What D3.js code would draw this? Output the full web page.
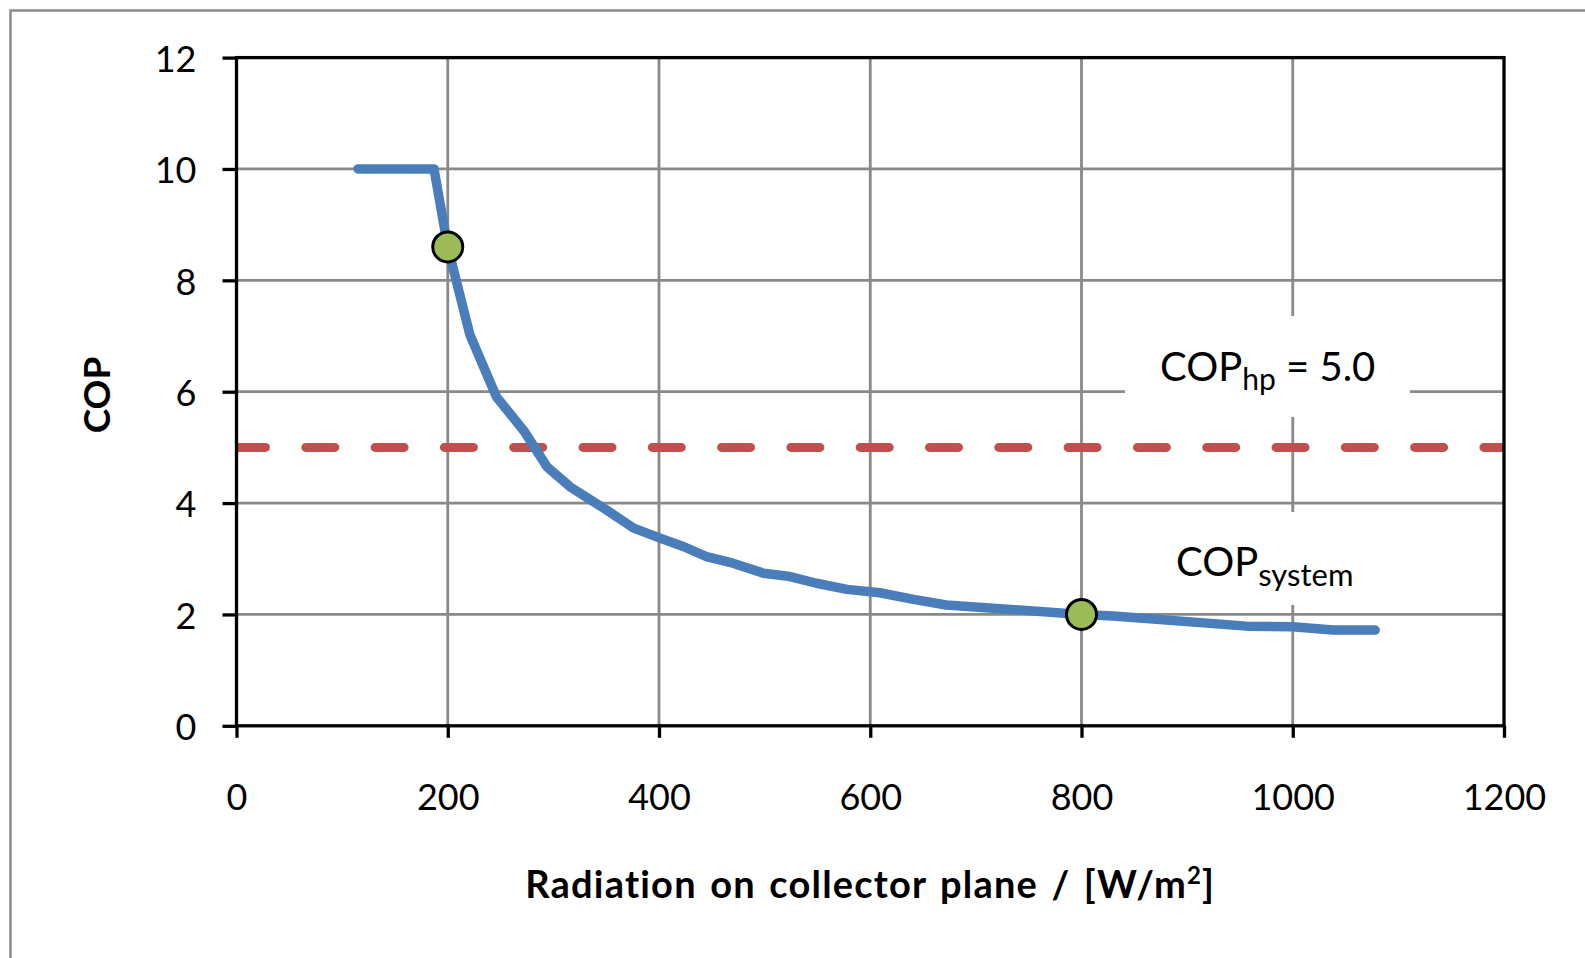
<!DOCTYPE html>
<html>
<head>
<meta charset="utf-8">
<script src="https://cdn.jsdelivr.net/npm/d3@7"></script>
<style>
  html, body { margin: 0; padding: 0; background: #fff; }
  svg { display: block; font-family: Lato, "Open Sans", sans-serif; }
</style>
</head>
<body>
<div id="chart"></div>
<script>
// Curve data
const radiation = [115, 187, 200, 221, 246, 272, 294, 316, 350, 376, 401, 423, 445, 470, 499, 524, 549, 578, 609, 641, 672, 800, 830, 956, 1000, 1038, 1078];
const copSystem = [10.0, 10.0, 8.6, 7.02, 5.91, 5.3, 4.65, 4.29, 3.88, 3.55, 3.37, 3.22, 3.04, 2.92, 2.74, 2.68, 2.56, 2.45, 2.39, 2.27, 2.17, 2.0, 1.97, 1.79, 1.78, 1.72, 1.72];

// Highlighted points
const markerX = [200, 800];
const markerY = [8.6, 2.0];

// Heat pump reference
const copHp = 5.0;

const xTicks = [0, 200, 400, 600, 800, 1000, 1200];
const yTicks = [0, 2, 4, 6, 8, 10, 12];

const width = 1585, height = 958;
const plotLeft = 236.5, plotRight = 1504, plotTop = 57.6, plotBottom = 725.8;

const svg = d3.select('#chart')
    .append('svg')
    .attr('width', width)
    .attr('height', height);

svg.append('rect')
    .attr('width', width).attr('height', height)
    .attr('fill', '#fff');

// outer chart border (runs off the right and bottom edges)
svg.append('rect')
    .attr('x', 10.5).attr('y', 10.5)
    .attr('width', width + 20).attr('height', height + 20)
    .attr('fill', 'none')
    .attr('stroke', '#8c8c8c')
    .attr('stroke-width', 2.5);

const x = d3.scaleLinear().domain([0, 1200]).range([plotLeft, plotRight]);
const y = d3.scaleLinear().domain([0, 12]).range([plotBottom, plotTop]);

// gridlines
svg.append('g').selectAll('line')
    .data(xTicks.slice(1, -1))
    .enter().append('line')
    .attr('x1', d => x(d)).attr('x2', d => x(d))
    .attr('y1', plotTop).attr('y2', plotBottom)
    .attr('stroke', '#898989').attr('stroke-width', 2.8);

svg.append('g').selectAll('line')
    .data(yTicks.slice(1, -1))
    .enter().append('line')
    .attr('x1', plotLeft).attr('x2', plotRight)
    .attr('y1', d => y(d)).attr('y2', d => y(d))
    .attr('stroke', '#898989').attr('stroke-width', 2.8);

// white boxes behind the two labels
svg.append('rect')
    .attr('x', 1125).attr('y', 316)
    .attr('width', 285).attr('height', 101)
    .attr('fill', '#fff');
svg.append('rect')
    .attr('x', 1150).attr('y', 512)
    .attr('width', 235).attr('height', 93)
    .attr('fill', '#fff');

svg.append('defs').append('clipPath').attr('id', 'plot-clip')
    .append('rect')
    .attr('x', plotLeft).attr('y', plotTop)
    .attr('width', plotRight - plotLeft).attr('height', plotBottom - plotTop);

// COP_hp dashed line
svg.append('line')
    .attr('clip-path', 'url(#plot-clip)')
    .attr('x1', x(0)).attr('x2', x(1200) + 40)
    .attr('y1', y(copHp)).attr('y2', y(copHp))
    .attr('stroke', '#c0504d')
    .attr('stroke-width', 9)
    .attr('stroke-linecap', 'round')
    .attr('stroke-dasharray', '29,40.3');

// COP_system curve
const line = d3.line()
    .x((d, i) => x(radiation[i]))
    .y(d => y(d));

svg.append('path')
    .datum(copSystem)
    .attr('d', line)
    .attr('fill', 'none')
    .attr('stroke', '#4a7ebb')
    .attr('stroke-width', 9.5)
    .attr('stroke-linecap', 'round')
    .attr('stroke-linejoin', 'round');

// markers
svg.append('g').selectAll('circle')
    .data(markerX)
    .enter().append('circle')
    .attr('cx', d => x(d))
    .attr('cy', (d, i) => y(markerY[i]))
    .attr('r', 15)
    .attr('fill', '#9bbb59')
    .attr('stroke', '#000')
    .attr('stroke-width', 3);

// plot frame
svg.append('rect')
    .attr('x', plotLeft).attr('y', plotTop)
    .attr('width', plotRight - plotLeft).attr('height', plotBottom - plotTop)
    .attr('fill', 'none')
    .attr('stroke', '#000')
    .attr('stroke-width', 3.3);

// axes
const yAxis = svg.append('g')
    .attr('transform', `translate(${plotLeft},0)`)
    .call(d3.axisLeft(y).tickValues(yTicks).tickFormat(d3.format('d'))
        .tickSizeInner(14).tickSizeOuter(0).tickPadding(26));
const xAxis = svg.append('g')
    .attr('transform', `translate(0,${plotBottom})`)
    .call(d3.axisBottom(x).tickValues(xTicks).tickFormat(d3.format('d'))
        .tickSizeInner(12).tickSizeOuter(0).tickPadding(47));

[yAxis, xAxis].forEach(g => {
    g.select('.domain').remove();
    g.selectAll('.tick line').attr('stroke', '#000').attr('stroke-width', 3.3);
    g.selectAll('.tick text')
        .attr('fill', '#000')
        .style('font-family', 'Lato, sans-serif')
        .style('font-size', '36px');
});
yAxis.selectAll('.tick text').attr('dy', '0.38em');

// axis titles
svg.append('text')
    .attr('transform', 'translate(110,395) rotate(-90)')
    .attr('text-anchor', 'middle')
    .style('font-size', '37px')
    .style('font-weight', 'bold')
    .text('COP');

const xTitle = svg.append('text')
    .attr('x', (plotLeft + plotRight) / 2)
    .attr('y', 897.7)
    .attr('text-anchor', 'middle')
    .style('font-size', '38px')
    .style('font-weight', 'bold')
    .style('letter-spacing', '1.2px')
    .style('word-spacing', '3px');
xTitle.append('tspan').text('Radiation on collector plane / [W/m');
xTitle.append('tspan').text('2').attr('dy', -14).style('font-size', '24px');
xTitle.append('tspan').text(']').attr('dy', 14);

// series labels
const hpLabel = svg.append('text')
    .attr('x', 1160).attr('y', 380.7)
    .style('font-size', '40px');
hpLabel.append('tspan').text('COP');
hpLabel.append('tspan').text('hp').attr('dy', 9).style('font-size', '30px');
hpLabel.append('tspan').text(' = 5.0').attr('dy', -9);

const sysLabel = svg.append('text')
    .attr('x', 1176).attr('y', 576)
    .style('font-size', '40px');
sysLabel.append('tspan').text('COP');
sysLabel.append('tspan').text('system').attr('dy', 10).style('font-size', '31px');
</script>
</body>
</html>
